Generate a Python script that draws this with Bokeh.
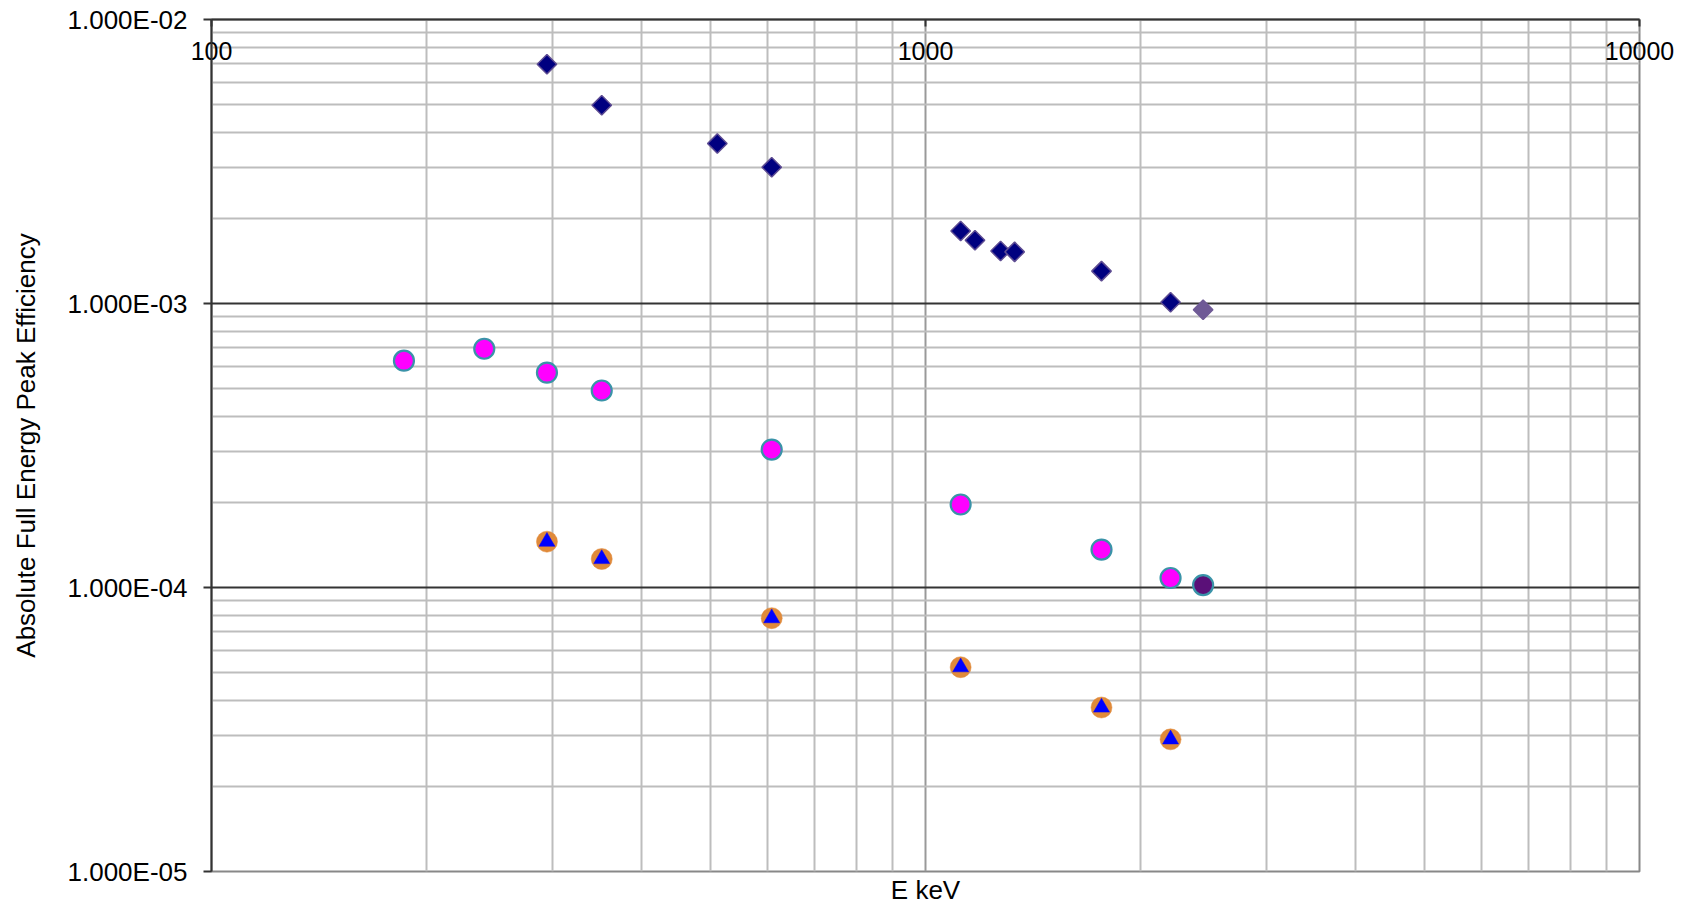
import math
from bokeh.plotting import figure
from bokeh.models import LogAxis, FixedTicker, Range1d
from bokeh.embed import file_html
from bokeh.resources import INLINE

# ---------------- data ----------------
x_ticks = [100, 1000, 10000]
x_labels = ["100", "1000", "10000"]
x_minor = [200, 300, 400, 500, 600, 700, 800, 900,
           2000, 3000, 4000, 5000, 6000, 7000, 8000, 9000]

y_ticks = [1e-5, 1e-4, 1e-3, 1e-2]
y_labels = ["1.000E-05", "1.000E-04", "1.000E-03", "1.000E-02"]
y_minor = [2e-5, 3e-5, 4e-5, 5e-5, 6e-5, 7e-5, 8e-5, 9e-5,
           2e-4, 3e-4, 4e-4, 5e-4, 6e-4, 7e-4, 8e-4, 9e-4,
           2e-3, 3e-3, 4e-3, 5e-3, 6e-3, 7e-3, 8e-3, 9e-3]

# navy diamonds
diam_e = [295, 352, 511, 609, 1120, 1173, 1274, 1333, 1764, 2204]
diam_eff = [6.96e-3, 4.99e-3, 3.66e-3, 3.02e-3, 1.80e-3, 1.67e-3, 1.53e-3, 1.52e-3, 1.30e-3, 1.01e-3]
# purple diamond
diam2_e = [2448]
diam2_eff = [9.5e-4]

# magenta circles
mag_e = [186, 241, 295, 352, 609, 1120, 1764, 2204]
mag_eff = [6.29e-4, 6.93e-4, 5.71e-4, 4.94e-4, 3.06e-4, 1.96e-4, 1.36e-4, 1.08e-4]
# dark circle
dark_e = [2448]
dark_eff = [1.02e-4]

# orange circles / blue triangles
tri_e = [295, 352, 609, 1120, 1764, 2204]
tri_eff = [1.45e-4, 1.26e-4, 7.8e-5, 5.24e-5, 3.78e-5, 2.92e-5]

FONT = "Liberation Sans"

p = figure(width=1692, height=907,
           x_axis_type="log", y_axis_type="log",
           x_range=Range1d(100, 10000), y_range=Range1d(1e-5, 1e-2),
           x_axis_location="above",
           output_backend="svg", toolbar_location=None,
           min_border_left=211, min_border_right=53,
           min_border_top=19, min_border_bottom=35)

p.background_fill_color = "white"
p.border_fill_color = "white"
p.outline_line_color = "#888888"
p.outline_line_width = 2

# top x axis (labels inside plot)
xa = p.xaxis[0]
xa.ticker = FixedTicker(ticks=x_ticks, minor_ticks=x_minor)
xa.major_label_overrides = {t: l for t, l in zip(x_ticks, x_labels)}
xa.major_tick_out = 0
xa.major_tick_in = 7
xa.minor_tick_out = 0
xa.minor_tick_in = 0
xa.major_tick_line_color = "#333333"
xa.major_tick_line_width = 2
xa.axis_line_color = "#333333"
xa.axis_line_width = 2
xa.major_label_standoff = -40
xa.major_label_text_font = FONT
xa.major_label_text_font_size = "25px"
xa.major_label_text_color = "black"

# left y axis
ya = p.yaxis[0]
ya.ticker = FixedTicker(ticks=y_ticks, minor_ticks=y_minor)
ya.major_label_overrides = {t: l for t, l in zip(y_ticks, y_labels)}
ya.major_tick_out = 8
ya.major_tick_in = 0
ya.minor_tick_out = 0
ya.minor_tick_in = 0
ya.major_tick_line_color = "#333333"
ya.major_tick_line_width = 2
ya.axis_line_color = "#333333"
ya.axis_line_width = 2
ya.major_label_standoff = 16
ya.major_label_text_font = FONT
ya.major_label_text_font_size = "26px"
ya.major_label_text_color = "black"
ya.axis_label = "Absolute Full Energy Peak Efficiency"
ya.axis_label_text_font = FONT
ya.axis_label_text_font_size = "26px"
ya.axis_label_text_font_style = "normal"
ya.axis_label_text_color = "black"
ya.axis_label_standoff = 24

# bottom axis carrying only the title
bx = LogAxis(ticker=FixedTicker(ticks=[]), axis_label="E keV",
             axis_line_color=None, major_tick_out=0, major_tick_in=0,
             minor_tick_out=0, minor_tick_in=0, major_label_standoff=0,
             axis_label_standoff=3,
             axis_label_text_font=FONT, axis_label_text_font_size="26px",
             axis_label_text_font_style="normal", axis_label_text_color="black")
p.add_layout(bx, "below")

# grids
p.xgrid.ticker = FixedTicker(ticks=x_ticks[1:-1], minor_ticks=x_minor)
p.xgrid.grid_line_color = "#999999"
p.xgrid.grid_line_width = 2
p.xgrid.minor_grid_line_color = "#bdbdbd"
p.xgrid.minor_grid_line_width = 2

p.ygrid.ticker = FixedTicker(ticks=y_ticks[1:-1], minor_ticks=y_minor)
p.ygrid.grid_line_color = "#333333"
p.ygrid.grid_line_width = 1.8
p.ygrid.minor_grid_line_color = "#bdbdbd"
p.ygrid.minor_grid_line_width = 2

# series
p.scatter(diam_e, diam_eff, marker="square", size=13.8, angle=math.pi / 4,
          fill_color="#000080", line_color="#5e4c92", line_width=1.5)
p.scatter(diam2_e, diam2_eff, marker="square", size=13.8, angle=math.pi / 4,
          fill_color="#6f5a96", line_color="#6f5a96", line_width=1.5)

p.scatter(mag_e, mag_eff, marker="circle", size=20,
          fill_color="#ff00ff", line_color="#3a93a8", line_width=2.2)
p.scatter(dark_e, dark_eff, marker="circle", size=20,
          fill_color="#5a1078", line_color="#3a93a8", line_width=2.2)

p.scatter(tri_e, tri_eff, marker="circle", size=21,
          fill_color="#e08a3a", line_color="#e08a3a", line_width=0.5)
p.scatter(tri_e, tri_eff, marker="triangle", size=16,
          fill_color="#0000ff", line_color="#0000ff", line_width=0.5)

open("out.html", "w").write(file_html(p, INLINE))
